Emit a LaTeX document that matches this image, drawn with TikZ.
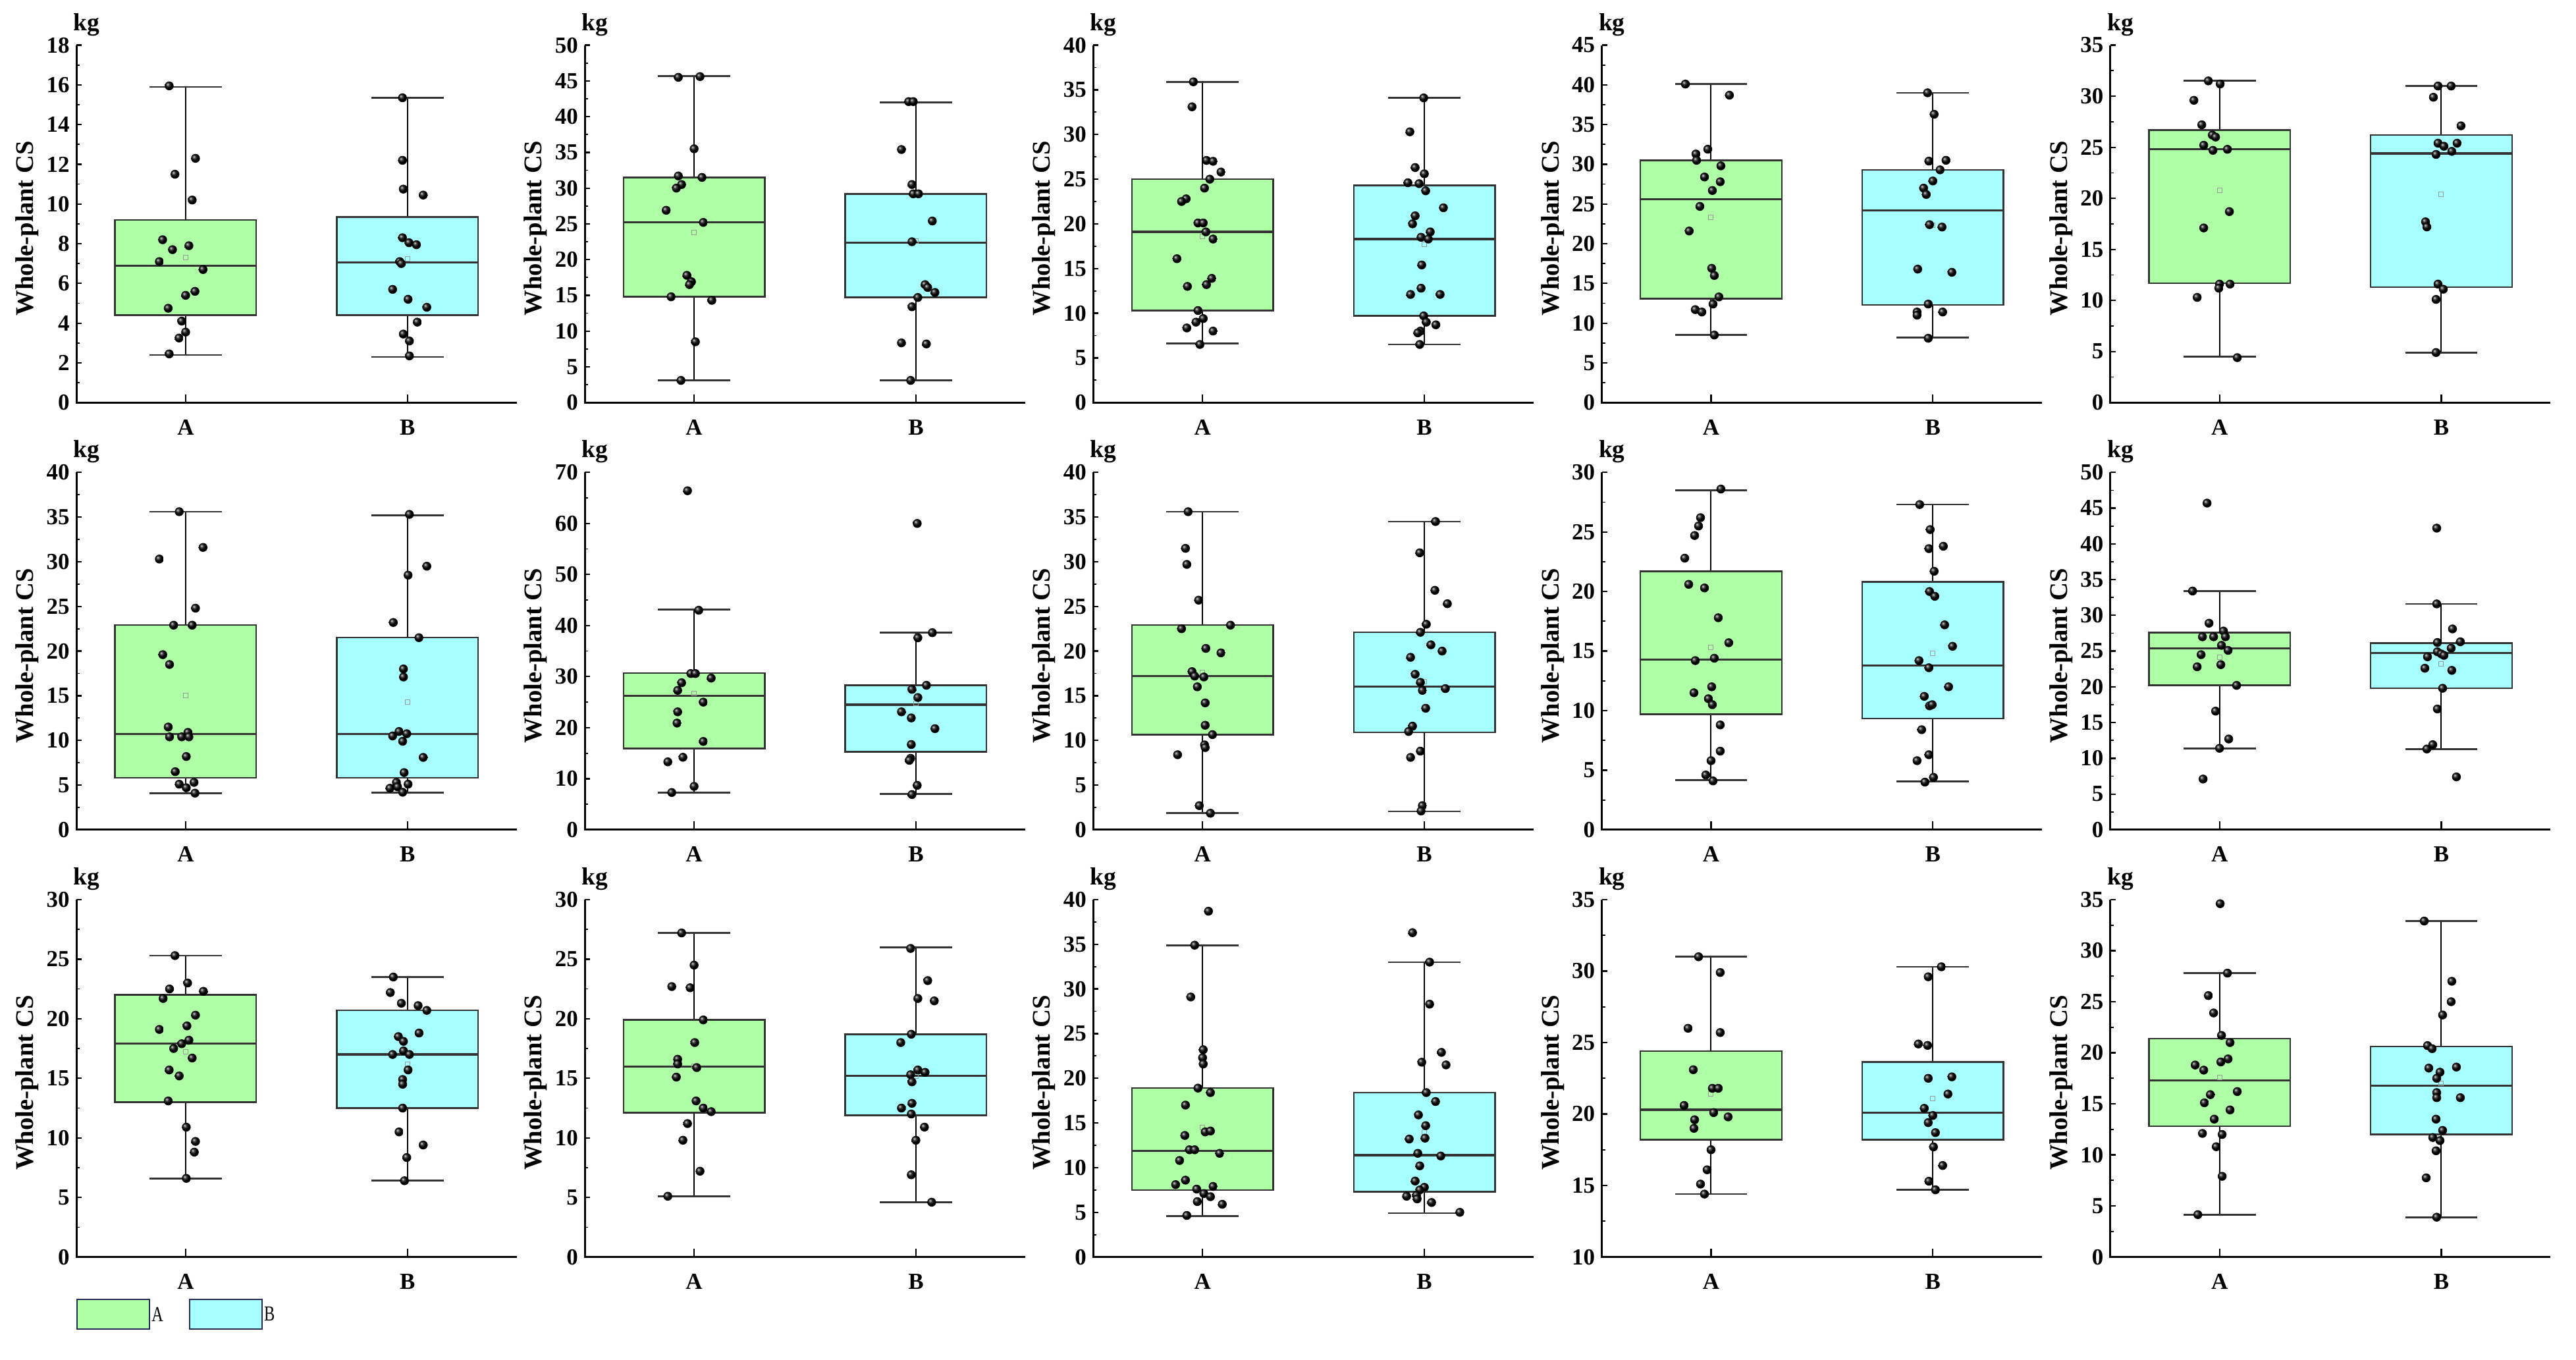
\documentclass[tikz,border=0pt]{standalone}
\usepackage{fontspec}
\setmainfont{Liberation Serif}
\definecolor{gA}{HTML}{AEFFA6}
\definecolor{cB}{HTML}{A8FFFF}
\definecolor{edge}{HTML}{333333}
\tikzset{
  axisline/.style={line width=1.2pt,black},
  ticklab/.style={font=\fontsize{14}{15}\selectfont\bfseries,inner sep=0pt},
  whisk/.style={line width=0.8pt,black},
  capline/.style={line width=1.1pt,edge},
  boxline/.style={line width=1pt,draw=edge},
  medline/.style={line width=1.3pt,edge},
  meanmk/.style={draw=gray!80,line width=0.4pt,minimum size=2.8pt,inner sep=0pt,rectangle},
  legbox/.style={draw=edge!80!blue,line width=0.9pt,minimum width=44pt,minimum height=18pt,inner sep=0pt},
}
% \bplot{cx}{fill}{lo}{q1}{med}{q3}{hi}{mean}{dots dx/v}
\newcommand\bplot[9]{%
  \draw[whisk] (#1,#3) -- (#1,#4);
  \draw[whisk] (#1,#6) -- (#1,#7);
  \draw[capline] (#1-22,#3) -- (#1+22,#3);
  \draw[capline] (#1-22,#7) -- (#1+22,#7);
  \filldraw[boxline,fill=#2] (#1-43,#4) rectangle (#1+43,#6);
  \draw[medline] (#1-43,#5) -- (#1+43,#5);
  \node[meanmk] at (#1,#8) {};
  \foreach \dx/\v in {#9}{\shade[ball color=black] (#1+\dx,\v) circle[radius=2.7pt];}
}
% \panel{x0}{Ybot}{ymin}{ymax}{step}{boxes}
\newcommand\panel[6]{%
  \pgfmathsetmacro\ys{217.5/(#4-#3)}%
  \pgfmathtruncatemacro\sec{#3+#5}%
  \pgfmathsetmacro\mA{#3+#5/2}%
  \pgfmathsetmacro\mB{#3+#5*1.5}%
  \pgfmathsetmacro\mL{#4-#5/2}%
  \node[font=\fontsize{15}{16}\selectfont\bfseries,anchor=west,inner sep=0pt] at (#1-2,#2+230) {kg};
  \node[font=\fontsize{15.5}{16}\selectfont\bfseries,rotate=90,inner sep=0pt] at (#1-30,#2+106) {Whole-plant CS};
  \node[ticklab] at (#1+66.5,#2-15) {A};
  \node[ticklab] at (#1+201.5,#2-15) {B};
  \begin{scope}[shift={(#1,#2)},y=\ys pt,yshift={-(#3)*\ys*1pt}]
    #6
    \draw[axisline] (0,#4) -- (0,#3) -- (268,#3);
    \foreach \t in {#3,\sec,...,#4}{
      \draw[line width=0.9pt] (0,\t) -- ++(3.2pt,0);
      \node[ticklab,anchor=east] at ([xshift=-4pt]0,\t) {\t};
    }
    \foreach \m in {\mA,\mB,...,\mL}{\draw[line width=0.7pt] (0,\m) -- ++(2pt,0);}
    \draw[line width=0.9pt] (66.5,#3) -- ++(0,5pt);
    \draw[line width=0.9pt] (201.5,#3) -- ++(0,5pt);
  \end{scope}
}
\begin{document}
\begin{tikzpicture}[x=1pt,y=1pt]
\useasboundingbox (0,0) rectangle (1568,827.3);
\fill[white] (0,0) rectangle (1568,827.3);
% ---------------- Row 1
\panel{46.5}{582.3}{0}{18}{2}{%
 \bplot{66.5}{gA}{2.4}{4.4}{6.9}{9.2}{15.9}{7.3}{-10/15.95,6/12.3,-6.5/11.5,4/10.2,-14/8.2,-8/7.7,2/7.9,-16/7.1,10.6/6.7,5.7/5.6,0/5.4,-10.6/4.75,-2.4/4.1,0/3.55,-4/3.25,-10/2.45}
 \bplot{201.5}{cB}{2.3}{4.4}{7.05}{9.35}{15.35}{7.25}{-3/15.35,-3/12.2,-2.5/10.75,9.6/10.45,-3/8.3,1/8.05,5.5/7.95,-4.7/7.1,-3.7/7.0,-9/5.7,0.4/5.2,11.8/4.8,6/4.05,-2.5/3.45,1.2/3.1,1.2/2.35}}
\panel{356}{582.3}{0}{50}{5}{%
 \bplot{66.5}{gA}{3.1}{14.8}{25.2}{31.5}{45.7}{23.8}{-9.6/45.5,3.6/45.6,0/35.5,-9.6/31.7,4.8/31.5,-7.6/30.5,-10.8/30.0,-17/26.9,5.6/25.2,-4.4/17.8,-1.6/16.9,-2.8/16.5,-14/14.8,10.8/14.3,0.8/8.5,-8/3.1}
 \bplot{201.5}{cB}{3.1}{14.7}{22.4}{29.2}{42.0}{22.6}{-4.4/42.1,-1.6/42.1,-8.8/35.4,-2.4/30.5,-1.6/29.2,1.6/29.2,10/25.4,-2.4/22.5,5.6/16.5,7.2/16.1,11.6/15.4,1.2/14.7,-2.4/13.4,-8.8/8.35,6.4/8.2,-3.2/3.1}}
\panel{665.5}{582.3}{0}{40}{5}{%
 \bplot{66.5}{gA}{6.6}{10.3}{19.1}{25.0}{35.9}{18.6}{-5.6/35.9,-6.4/33.1,2.4/27.1,6.4/27.0,11.2/25.8,4.4/25.0,1.2/24.0,-10/22.8,-12.8/22.5,-2.8/20.1,0.4/20.1,2/19.1,6.4/18.3,-15.6/16.1,5.6/13.9,2.4/13.2,-9.2/13.0,-2.8/10.3,0.4/9.4,-4/9.0,-9.6/8.35,6.4/8.0,-1.6/6.5}
 \bplot{201.5}{cB}{6.5}{9.7}{18.3}{24.3}{34.1}{17.7}{-0.4/34.1,-8.8/30.3,-5.6/26.3,0/25.6,-10/24.6,-3.2/24.5,0.8/23.7,11.6/21.8,-5.6/20.9,-7.2/20.0,3.6/19.1,-2/18.5,2.4/18.3,-1.6/15.4,-2/12.8,-8.4/12.1,9.6/12.1,-0.4/9.7,1.2/9.0,7/8.7,-2.4/8.0,-4/7.8,-2.8/6.5}}
\panel{975}{582.3}{0}{45}{5}{%
 \bplot{66.5}{gA}{8.5}{13.1}{25.6}{30.5}{40.1}{23.3}{-15.6/40.1,11.2/38.7,-2/31.9,-9.2/31.3,-8.8/30.5,6/29.8,-4/28.4,5.6/27.8,0.8/26.7,-6.8/24.7,-13.3/21.6,0.4/16.9,2/16.0,4.8/13.3,1.2/12.4,-9.6/11.7,-5.6/11.4,2/8.5}
 \bplot{201.5}{cB}{8.2}{12.3}{24.2}{29.3}{39.0}{22.3}{-3.2/39.0,0.8/36.3,-2.4/30.4,8/30.5,4.4/29.3,0/27.9,-5.6/27.0,-4/26.2,-2/22.4,5.6/22.1,-9.2/16.8,11.6/16.4,-2.8/12.4,-9.6/11.4,-9.6/11.0,6/11.4,-2.8/8.1}}
\panel{1284.5}{582.3}{0}{35}{5}{%
 \bplot{66.5}{gA}{4.5}{11.7}{24.8}{26.7}{31.5}{20.8}{-6.8/31.5,0.4/31.2,-15.6/29.6,-10.8/27.2,-4.4/26.2,-2.4/26.0,-9.6/25.2,-4/24.7,4.8/24.8,6/18.7,-9.6/17.1,0/11.6,6.4/11.6,-0.4/11.2,-13.6/10.3,10.8/4.4}
 \bplot{201.5}{cB}{4.9}{11.3}{24.4}{26.2}{31.0}{20.4}{-2/31.0,6/31.0,-4.8/29.9,12/27.1,-2/25.4,9.6/25.4,1.6/25.1,-3.2/24.3,6.4/24.6,-9.6/17.7,-8.8/17.2,-2/11.6,1.2/11.1,-3.2/10.1,-3.2/4.9}}
% ---------------- Row 2
\panel{46.5}{322.3}{0}{40}{5}{%
 \bplot{66.5}{gA}{4.1}{5.8}{10.7}{22.9}{35.6}{15.0}{-3.9/35.6,10.6/31.6,-16/30.3,6/24.8,-7.3/22.9,4/22.9,-13.9/19.6,-9.8/18.5,-10.6/11.5,1.4/10.9,-9.8/10.4,-2.4/10.4,2/10.4,0.4/8.2,-6.3/6.5,-3.9/5.1,5.1/5.3,0.4/4.7,5.7/4.1}
 \bplot{201.5}{cB}{4.15}{5.8}{10.7}{21.5}{35.2}{14.3}{1.2/35.3,11.8/29.5,0.4/28.5,-8.6/23.2,7/21.5,-2.4/18.0,-2.4/17.1,-5.1/11.0,-9/10.5,-0.4/10.75,-2.9/9.9,9.6/8.1,-2/6.4,-6.7/5.3,-10.6/4.65,-6/4.8,0.4/5.1,-2.9/4.2}}
\panel{356}{322.3}{0}{70}{10}{%
 \bplot{66.5}{gA}{7.3}{15.9}{26.2}{30.7}{43.1}{26.7}{-4/66.4,2.8/43.0,-2/30.6,0.8/30.6,10.4/29.7,-7.6/28.8,-10/27.3,5.6/25.0,-10/23.1,-10.4/20.9,5.6/17.3,-6.8/14.2,-16/13.3,0/8.5,-13.6/7.3}
 \bplot{201.5}{cB}{7.0}{15.3}{24.5}{28.3}{38.6}{24.8}{0.8/60.0,10/38.6,1.2/37.6,6.4/28.3,-2.4/27.5,1.2/25.9,-8.8/23.1,-2.8/21.9,11.6/19.8,-2.8/16.7,-3.2/14.0,-4/13.6,0.8/8.7,-2.4/6.9}}
\panel{665.5}{322.3}{0}{40}{5}{%
 \bplot{66.5}{gA}{1.85}{10.65}{17.2}{22.9}{35.6}{17.6}{-8.8/35.6,-10.4/31.5,-9.6/29.7,-2.4/25.7,17/22.9,-12.8/22.5,2/20.3,11.2/19.8,-6.4/17.7,-4.8/17.2,0.8/17.1,-3.2/16.0,1.6/14.2,1.6/11.7,6/10.65,1.2/9.5,1.6/9.2,-15.2/8.4,-2/2.7,4.8/1.85}
 \bplot{201.5}{cB}{2.05}{10.9}{16.0}{22.1}{34.5}{16.6}{6.8/34.5,-2.8/31.0,6.4/26.8,14/25.3,1.2/23.0,-2.4/22.1,4/20.7,10.8/20.0,-8.4/19.3,-5.6/17.4,-2.4/16.5,-1.2/15.6,12.8/15.8,0.8/13.6,-7.2/11.6,-9.6/11.0,-2.4/8.8,-8.4/8.1,-1.2/2.7,-2/2.1}}
\panel{975}{322.3}{0}{30}{5}{%
 \bplot{66.5}{gA}{4.15}{9.7}{14.3}{21.7}{28.5}{15.3}{6/28.6,-6.4/26.2,-7.6/25.5,-10/24.7,-16/22.8,-13.6/20.6,-4/20.3,4.4/17.8,10.8/15.7,2/14.4,-9.6/14.2,0.4/12.0,-10.4/11.5,-1.6/11.0,0.8/10.5,5.6/8.8,5.6/6.6,0/5.8,-3.2/4.6,1.2/4.1}
 \bplot{201.5}{cB}{4.05}{9.35}{13.8}{20.8}{27.3}{14.8}{-8/27.3,-1.6/25.2,-2.4/23.6,6.4/23.8,0.8/21.7,-2/20.0,1.2/19.6,7.2/17.2,12/15.4,-8.4/14.2,-2.4/13.6,9.6/12.0,-5.2/11.2,-2/10.4,-0.4/10.5,-6.8/8.4,-2.4/6.3,-9.6/5.8,0.4/4.4,-4.8/4.0}}
\panel{1284.5}{322.3}{0}{50}{5}{%
 \bplot{66.5}{gA}{11.4}{20.2}{25.4}{27.6}{33.4}{24.1}{-7.6/45.7,-16.4/33.4,-6.4/28.9,2.4/27.8,-10.4/27.0,-3.6/27.0,3.6/27.0,-11.2/24.5,1.2/25.8,5.2/25.1,-13.6/22.8,0.8/23.1,10.4/20.2,-2.4/16.6,5.6/12.7,0/11.4,-10/7.1}
 \bplot{201.5}{cB}{11.3}{19.8}{24.7}{26.1}{31.6}{23.2}{-2.8/42.2,-2.8/31.6,6.8/28.1,-2.4/26.2,11.6/26.3,6/25.4,-2.4/24.9,0/24.6,-8.4/24.2,1.6/24.4,-10/22.6,6.4/22.3,0.8/19.8,-2.4/16.9,-5.2/11.9,-8.8/11.3,9.2/7.4}}
% ---------------- Row 3
\panel{46.5}{62.3}{0}{30}{5}{%
 \bplot{66.5}{gA}{6.6}{13.0}{17.9}{22.0}{25.3}{17.2}{-6.5/25.3,1.2/23.0,-9.8/22.5,10.8/22.3,-13.7/21.7,6/20.3,0.8/19.4,-16/19.1,2/18.2,-2.4/17.9,-7.3/17.5,4/16.7,-10/15.7,-3.9/15.2,-10.6/13.1,0.4/10.9,6/9.7,5.3/8.8,0.4/6.6}
 \bplot{201.5}{cB}{6.4}{12.5}{17.0}{20.7}{23.5}{16.2}{-8.6/23.5,-10.4/22.2,-3.7/21.3,6.5/21.1,11.8/20.7,7.1/18.8,-5.5/18.5,-2.4/18.1,-2.4/17.3,-9/17.0,1.2/17.0,0.4/15.7,-2.9/14.9,-2.9/14.5,-2.9/12.5,-5.1/10.5,9.6/9.4,-0.4/8.35,-1.8/6.4}}
\panel{356}{62.3}{0}{30}{5}{%
 \bplot{66.5}{gA}{5.1}{12.1}{16.0}{19.9}{27.2}{16.0}{-7.6/27.2,0/24.5,-13.6/22.7,-2.4/22.6,5.6/19.9,0.4/18.0,-10/16.6,-10/16.2,1.6/15.9,-10.8/15.1,1.2/13.1,5.6/12.5,10.4/12.2,-4/11.2,-6.8/9.8,3.6/7.2,-16/5.1}
 \bplot{201.5}{cB}{4.6}{11.9}{15.2}{18.7}{26.0}{15.2}{-3.2/25.9,7.2/23.2,1.2/21.7,11.2/21.5,-2.8/18.7,-9.2/18.0,1.2/15.7,-3.2/15.3,5.6/15.5,-2.4/14.7,-2.4/12.9,-8.8/12.5,-2.8/12.0,5.2/10.9,0/9.8,-2.8/6.9,9.6/4.6}}
\panel{665.5}{62.3}{0}{40}{5}{%
 \bplot{66.5}{gA}{4.6}{7.5}{11.9}{18.9}{34.9}{14.5}{3.6/38.7,-4.8/34.9,-7.2/29.1,0.4/23.2,0/22.3,0.4/21.6,-2.8/18.9,4.8/18.4,-10.4/17.0,1.6/14.0,4.8/14.1,-10.8/13.6,-8/12.0,-4.8/12.0,10.4/11.6,-14/10.8,-10.4/8.6,-16.4/8.1,6.4/7.9,-3.6/7.6,0.8/7.1,4.8/6.75,-3.2/6.2,12/5.9,-9.6/4.65}
 \bplot{201.5}{cB}{4.9}{7.3}{11.4}{18.4}{33.0}{14.0}{-7.2/36.3,3.2/33.0,3.2/28.3,10.4/22.9,-1.6/21.8,13.2/21.5,1.2/18.4,6.8/17.4,-3.6/15.9,0.8/14.7,-9.2/13.2,0.4/13.3,-4/11.6,10/11.3,-2.8/10.2,-5.6/8.5,0/7.8,-2.8/7.5,-4.8/6.9,-10.8/6.8,-4.4/6.5,4.4/6.1,21.6/5.0}}
\panel{975}{62.3}{10}{35}{5}{%
 \bplot{66.5}{gA}{14.4}{18.2}{20.3}{24.4}{31.0}{21.4}{-7.6/31.0,5.6/29.9,-14/26.0,5.6/25.7,-10.8/23.1,0.8/21.8,4.4/21.8,-16.4/20.6,1.6/20.1,10.4/19.8,-10/19.6,-10.4/19.0,0/17.5,-2.4/16.1,-6.4/15.1,-4/14.4}
 \bplot{201.5}{cB}{14.7}{18.2}{20.1}{23.65}{30.3}{21.1}{5.2/30.3,-2.8/29.6,-8.8/24.9,-3.2/24.8,-2.8/22.5,11.6/22.6,9.2/21.4,-5.2/20.4,0/19.9,-2.8/19.4,1.6/18.7,0.4/17.7,6/16.4,-2.4/15.3,1.6/14.7}}
\panel{1284.5}{62.3}{0}{35}{5}{%
 \bplot{66.5}{gA}{4.15}{12.8}{17.3}{21.4}{27.8}{17.6}{0.4/34.6,4.8/27.8,-6.8/25.6,-3.6/23.9,1.2/21.7,6.4/21.0,5.2/19.4,0.8/19.1,-14.8/18.8,-9.6/18.3,10.8/16.2,-5.6/15.9,-9.2/15.1,6.4/14.4,-3.2/13.5,-10.4/12.1,1.6/12.0,-2/10.8,1.6/7.9,-13.2/4.15}
 \bplot{201.5}{cB}{3.9}{12.0}{16.8}{20.6}{32.9}{17.0}{-10.4/32.9,6.4/27.0,6/25.0,0.8/23.7,-8.4/20.7,-5.6/20.4,-7.6/18.5,9.2/18.6,-0.8/18.1,-2.8/17.5,-2.8/16.1,-2.8/15.6,11.6/15.6,-3.2/13.5,0.8/12.4,-5.2/11.7,-0.8/11.4,-3.2/10.4,-9.2/7.75,-2.8/3.9}}
% ---------------- Legend
\node[legbox,fill=gA,anchor=west] (legA) at (46.5,27.5) {};
\node[anchor=west,inner sep=1pt,font=\fontsize{13}{13}\selectfont,xscale=0.75] (legAt) at (legA.east) {A};
\node[legbox,fill=cB,anchor=west] (legB) at (115,27.5) {};
\node[anchor=west,inner sep=1pt,font=\fontsize{13}{13}\selectfont,xscale=0.75] (legBt) at (legB.east) {B};
\end{tikzpicture}
\end{document}
